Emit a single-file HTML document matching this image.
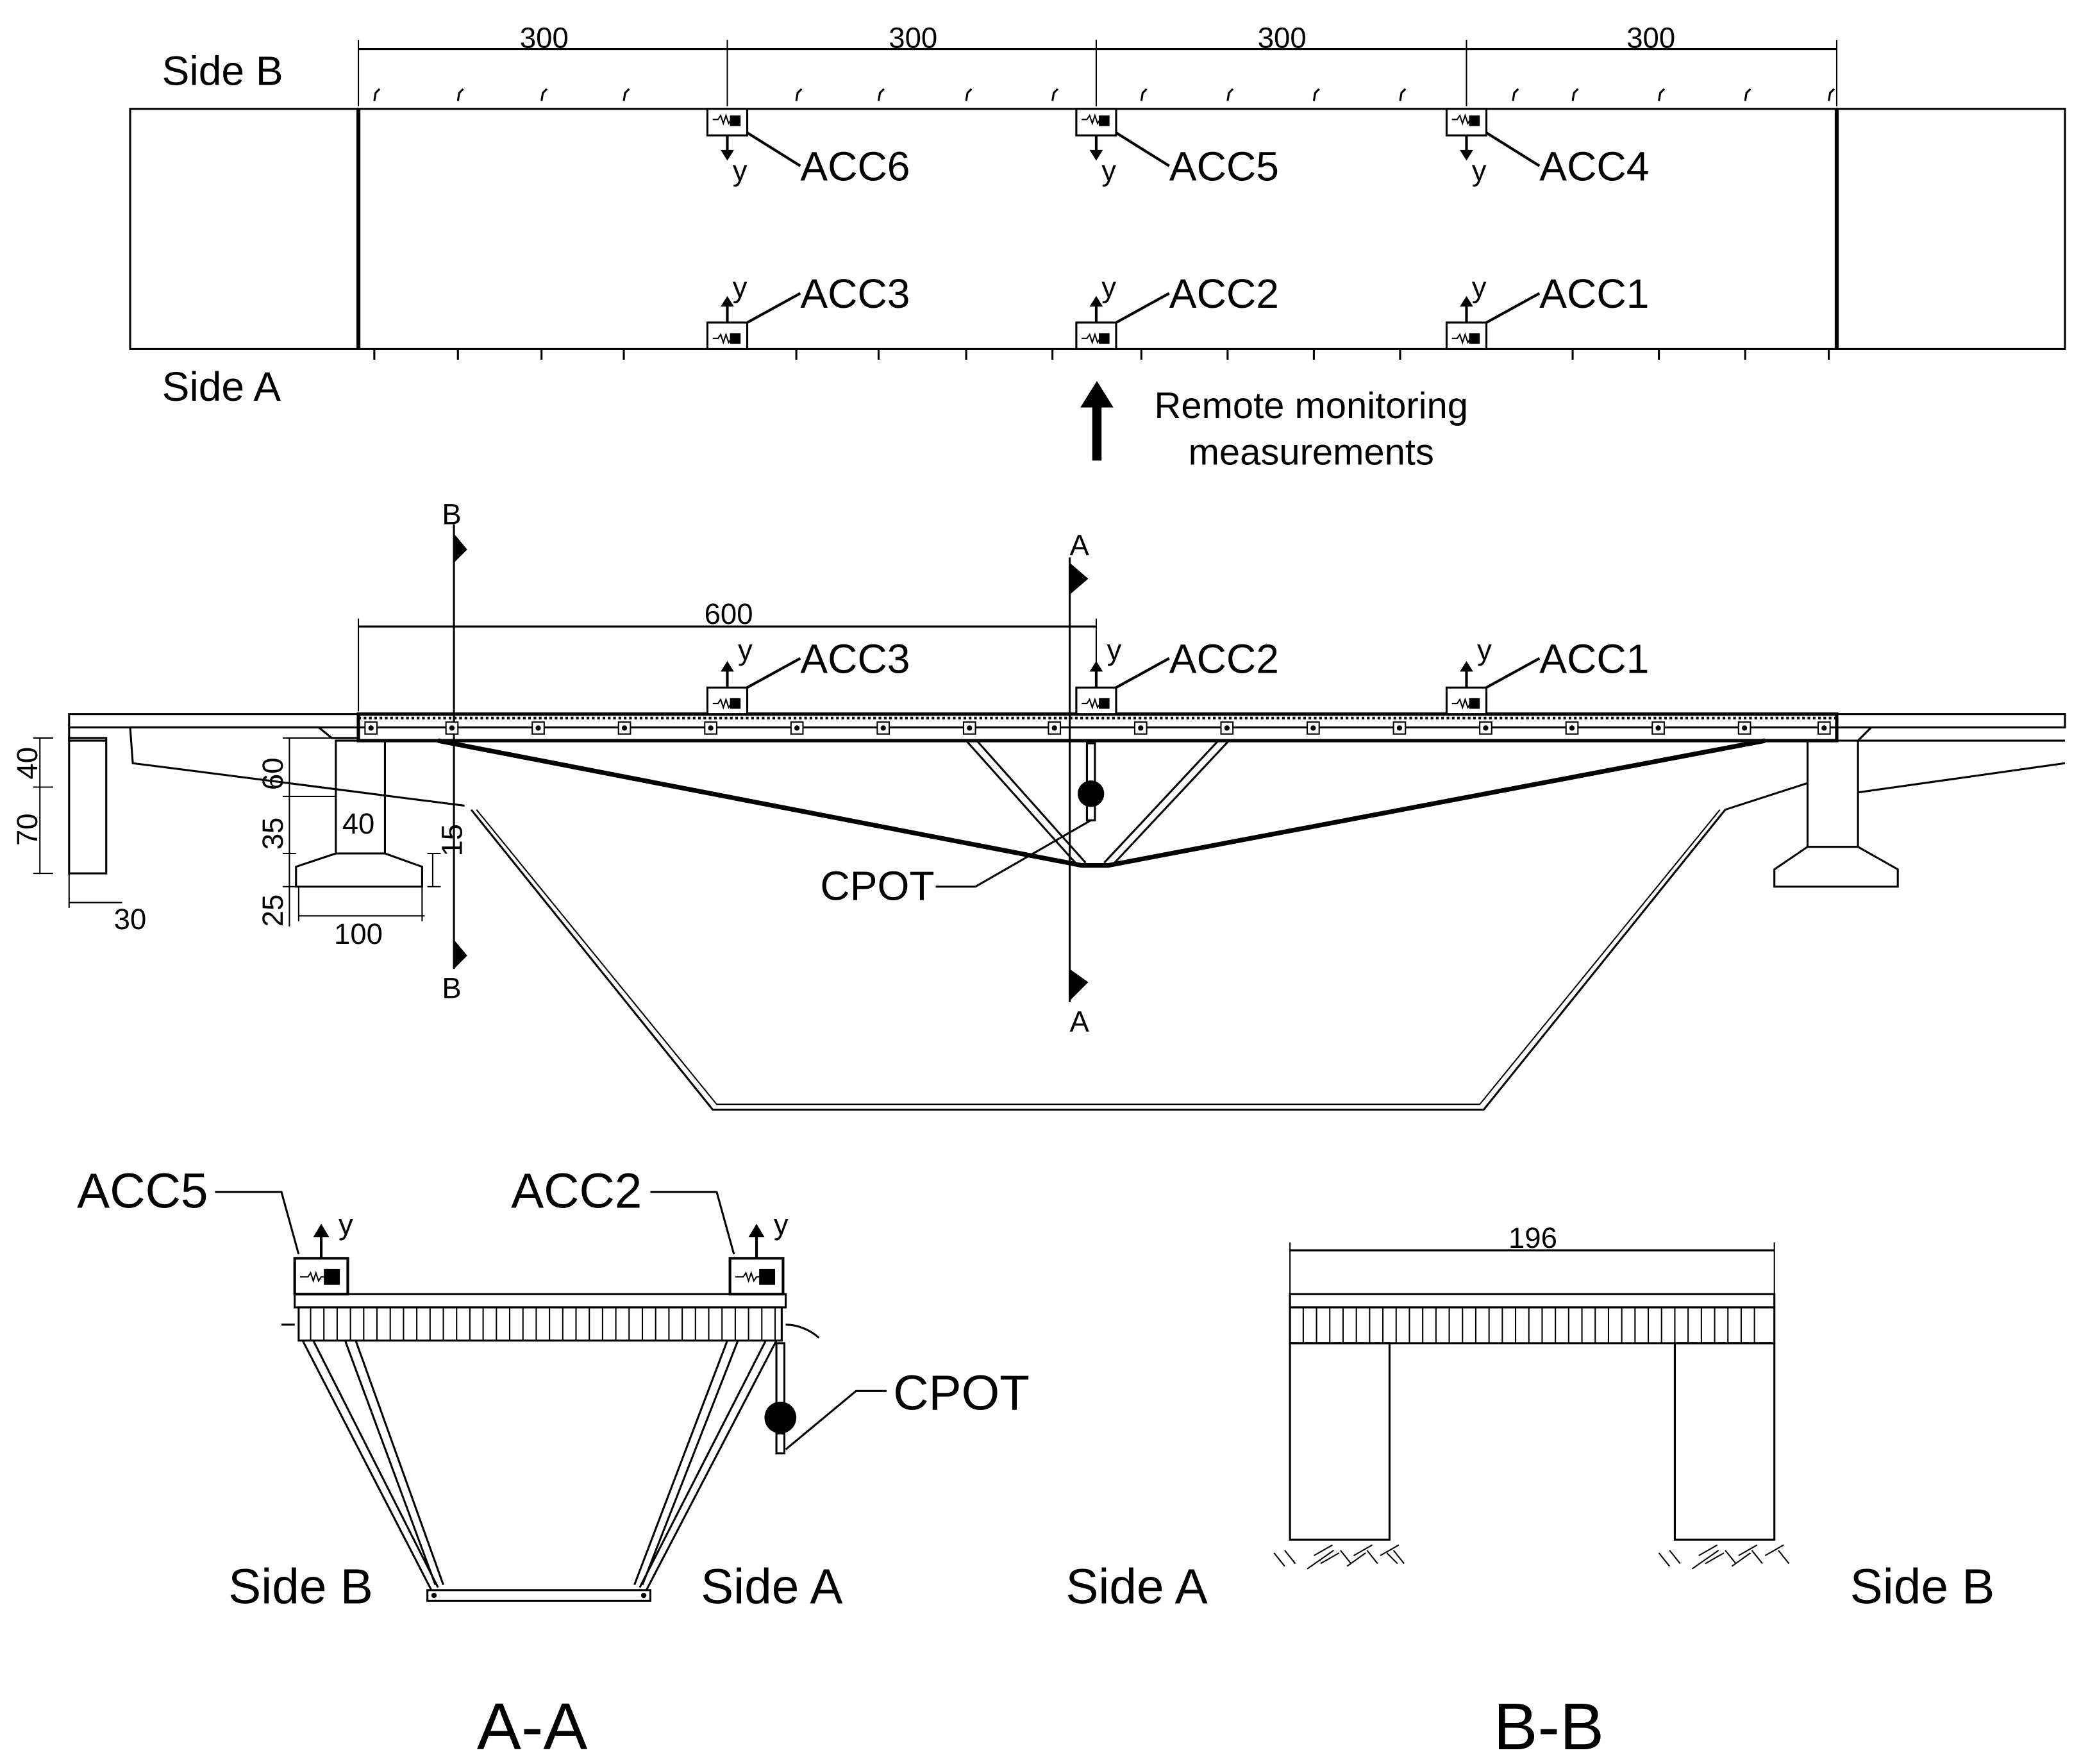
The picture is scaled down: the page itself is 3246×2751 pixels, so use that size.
<!DOCTYPE html>
<html><head><style>html,body{margin:0;padding:0;background:#fff}svg{display:block}text{font-family:"Liberation Sans",sans-serif;fill:#000}</style></head>
<body>
<svg width="3246" height="2751" viewBox="0 0 1568 1329" xmlns="http://www.w3.org/2000/svg">
<defs>
<g id="accD"><rect x="0" y="0" width="30" height="20" fill="#fff" stroke="#000" stroke-width="1.5"/><path d="M4 8 h4 l2 -3 l2 6 l2 -6 l2 6 l2 -3 h2" fill="none" stroke="#000" stroke-width="1"/><rect x="17" y="5" width="8" height="8" fill="#000" stroke="none"/></g>
<g id="accU"><rect x="0" y="0" width="30" height="20" fill="#fff" stroke="#000" stroke-width="1.5"/><path d="M4 12 h4 l2 -3 l2 6 l2 -6 l2 6 l2 -3 h2" fill="none" stroke="#000" stroke-width="1"/><rect x="17" y="8" width="8" height="8" fill="#000" stroke="none"/></g>
</defs>
<g stroke="#000" fill="none" stroke-width="1.5">
<rect x="98" y="82" width="1458" height="181"/>
<line x1="270" y1="82" x2="270" y2="263" stroke-width="3"/>
<line x1="1384" y1="82" x2="1384" y2="263" stroke-width="3"/>
<line x1="270" y1="37" x2="1384" y2="37"/>
<path d="M270 30v50M548 30v50M826 30v50M1105 30v50M1384 30v50" stroke-width="1"/>
<path d="M282 76l1-6 3-3M345 76l1-6 3-3M408 76l1-6 3-3M470 76l1-6 3-3M600 76l1-6 3-3M662 76l1-6 3-3M728 76l1-6 3-3M793 76l1-6 3-3M860 76l1-6 3-3M925 76l1-6 3-3M990 76l1-6 3-3M1055 76l1-6 3-3M1140 76l1-6 3-3M1185 76l1-6 3-3M1250 76l1-6 3-3M1315 76l1-6 3-3M1378 76l1-6 3-3"/>
<path d="M282 263v8M345 263v8M408 263v8M470 263v8M600 263v8M662 263v8M728 263v8M793 263v8M860 263v8M925 263v8M990 263v8M1055 263v8M1185 263v8M1250 263v8M1315 263v8M1378 263v8"/>
</g>
<g font-size="22" text-anchor="middle"><text x="410" y="36">300</text><text x="688" y="36">300</text><text x="966" y="36">300</text><text x="1244" y="36">300</text></g>
<text x="122" y="64" font-size="31">Side B</text>
<text x="122" y="302" font-size="31">Side A</text>
<g stroke="#000" stroke-width="2" fill="none">
<use href="#accD" x="533" y="82"/><use href="#accD" x="811" y="82"/><use href="#accD" x="1090" y="82"/>
<path d="M548 102v12M826 102v12M1105 102v12"/>
<path d="M563 100l40 25"/><path d="M841 100l40 25"/><path d="M1120 100l40 25"/>
<use href="#accU" x="533" y="243"/><use href="#accU" x="811" y="243"/><use href="#accU" x="1090" y="243"/>
<path d="M548 243v-14M826 243v-14M1105 243v-14"/>
<path d="M563 243l40-22M841 243l40-22M1120 243l40-22"/>
</g>
<g fill="#000">
<polygon points="543,113 548,121 553,113"/><polygon points="821,113 826,121 831,113"/><polygon points="1100,113 1105,121 1110,113"/>
<polygon points="543,231 548,223 553,231"/><polygon points="821,231 826,223 831,231"/><polygon points="1100,231 1105,223 1110,231"/>
</g>
<g font-size="31"><text x="603" y="136">ACC6</text><text x="881" y="136">ACC5</text><text x="1160" y="136">ACC4</text>
<text x="603" y="232">ACC3</text><text x="881" y="232">ACC2</text><text x="1160" y="232">ACC1</text></g>
<g font-size="22"><text x="552" y="136">y</text><text x="830" y="136">y</text><text x="1109" y="136">y</text>
<text x="552" y="224">y</text><text x="830" y="224">y</text><text x="1109" y="224">y</text></g>
<rect x="823" y="305" width="7" height="42"/><polygon points="814,307 826.5,287 839,307"/>
<text x="988" y="315" font-size="28" text-anchor="middle">Remote monitoring</text>
<text x="988" y="350" font-size="28" text-anchor="middle">measurements</text>

<g stroke="#000" fill="none" stroke-width="1.5">
<rect x="52" y="538" width="1504" height="10"/>
<rect x="270" y="538" width="1114" height="20" stroke-width="2.5"/>
<line x1="270" y1="541" x2="1384" y2="541" stroke-dasharray="2 2" stroke-width="2"/>
<path d="M52 548v10h28"/>
<path d="M98 548 L240 548 L250 556 L270 556"/>
<path d="M98 548 L100 575 L350 607"/>
<rect x="52" y="556" width="28" height="102"/>
<rect x="253" y="558" width="37" height="85"/>
<path d="M253 643l-30 10v15h95v-15l-28-10"/>
<path d="M1410 548 L1400 558 H1556"/>
<path d="M1300 610 L1362 590 M1400 597 L1556 575"/>
<rect x="1362" y="558" width="38" height="80"/>
<path d="M1362 638l-25 17v13h93v-13l-30-17"/>
<path d="M355 610 L537 836 L1118 836 L1300 610"/>
<path d="M359 610 L540 832 L1115 832 L1296 610" stroke-width="1"/>
<path d="M330 558 L815 652 L835 652 L1330 558" stroke-width="3.5"/>
<path d="M728 558 L812 652 M736 558 L818 650 M918 558 L832 650 M926 558 L838 652" stroke-width="1.5"/>
<line x1="342" y1="395" x2="342" y2="730"/>
<line x1="806" y1="420" x2="806" y2="755"/>
<line x1="270" y1="472" x2="826" y2="472"/><path d="M270 466v70M826 466v70" stroke-width="1"/>
<path d="M30 556v102M25 556h15M25 593h15M25 658h15M52 680h40M52 658v26" stroke-width="1"/>
<path d="M218 556v142M213 556h40M213 600h40M213 643h10M213 668h10M225 690h95M225 668v26M318 668v26M326 643v25M322 643h10M322 668h10" stroke-width="1"/>
<rect x="819" y="560" width="6" height="30"/><rect x="819" y="606" width="6" height="12"/>
<path d="M822 618 L735 668 H705"/>
</g>
<g fill="#000">
<polygon points="342,402 352,414 342,424"/><polygon points="342,708 352,720 342,730"/>
<polygon points="806,424 820,436 806,448"/><polygon points="806,730 820,740 806,754"/>
<circle cx="822" cy="598" r="10"/>
</g>
<g fill="#fff" stroke="#000" stroke-width="1">
<rect x="275" y="544" width="9" height="9"/><rect x="336" y="544" width="9" height="9"/><rect x="401" y="544" width="9" height="9"/><rect x="466" y="544" width="9" height="9"/><rect x="531" y="544" width="9" height="9"/><rect x="596" y="544" width="9" height="9"/><rect x="661" y="544" width="9" height="9"/><rect x="726" y="544" width="9" height="9"/><rect x="790" y="544" width="9" height="9"/><rect x="855" y="544" width="9" height="9"/><rect x="920" y="544" width="9" height="9"/><rect x="985" y="544" width="9" height="9"/><rect x="1050" y="544" width="9" height="9"/><rect x="1115" y="544" width="9" height="9"/><rect x="1180" y="544" width="9" height="9"/><rect x="1245" y="544" width="9" height="9"/><rect x="1310" y="544" width="9" height="9"/><rect x="1370" y="544" width="9" height="9"/>
</g>
<g fill="#000"><circle cx="279.5" cy="548.5" r="2"/><circle cx="340.5" cy="548.5" r="2"/><circle cx="405.5" cy="548.5" r="2"/><circle cx="470.5" cy="548.5" r="2"/><circle cx="535.5" cy="548.5" r="2"/><circle cx="600.5" cy="548.5" r="2"/><circle cx="665.5" cy="548.5" r="2"/><circle cx="730.5" cy="548.5" r="2"/><circle cx="794.5" cy="548.5" r="2"/><circle cx="859.5" cy="548.5" r="2"/><circle cx="924.5" cy="548.5" r="2"/><circle cx="989.5" cy="548.5" r="2"/><circle cx="1054.5" cy="548.5" r="2"/><circle cx="1119.5" cy="548.5" r="2"/><circle cx="1184.5" cy="548.5" r="2"/><circle cx="1249.5" cy="548.5" r="2"/><circle cx="1314.5" cy="548.5" r="2"/><circle cx="1374.5" cy="548.5" r="2"/></g>
<g stroke="#000" stroke-width="2" fill="none">
<use href="#accU" x="533" y="518"/><use href="#accU" x="811" y="518"/><use href="#accU" x="1090" y="518"/>
<path d="M548 518v-14M826 518v-14M1105 518v-14"/>
<path d="M563 518l40-22M841 518l40-22M1120 518l40-22"/>
</g>
<g fill="#000"><polygon points="543,506 548,498 553,506"/><polygon points="821,506 826,498 831,506"/><polygon points="1100,506 1105,498 1110,506"/></g>
<g font-size="31"><text x="603" y="507">ACC3</text><text x="881" y="507">ACC2</text><text x="1160" y="507">ACC1</text><text x="618" y="678">CPOT</text></g>
<g font-size="22"><text x="556" y="497">y</text><text x="834" y="497">y</text><text x="1113" y="497">y</text>
<text x="549" y="470" text-anchor="middle">600</text>
<text x="333" y="395">B</text><text x="333" y="752">B</text><text x="806" y="418">A</text><text x="806" y="777">A</text>
<text x="98" y="700" text-anchor="middle">30</text><text x="270" y="711" text-anchor="middle">100</text><text x="270" y="628" text-anchor="middle">40</text>
</g>
<g font-size="22" text-anchor="middle">
<text transform="translate(28,575) rotate(-90)">40</text><text transform="translate(28,625) rotate(-90)">70</text>
<text transform="translate(213,583) rotate(-90)">60</text><text transform="translate(213,628) rotate(-90)">35</text>
<text transform="translate(213,686) rotate(-90)">25</text><text transform="translate(348,633) rotate(-90)">15</text>
</g>

<g stroke="#000" fill="none" stroke-width="1.5">
<rect x="222" y="975" width="370" height="10"/>
<rect x="225" y="985" width="364" height="25"/>
<path d="M234 985v25M244 985v25M254 985v25M264 985v25M274 985v25M284 985v25M294 985v25M304 985v25M314 985v25M324 985v25M334 985v25M344 985v25M354 985v25M364 985v25M374 985v25M384 985v25M394 985v25M404 985v25M414 985v25M424 985v25M434 985v25M444 985v25M454 985v25M464 985v25M474 985v25M484 985v25M494 985v25M504 985v25M514 985v25M524 985v25M534 985v25M544 985v25M554 985v25M564 985v25M574 985v25M584 985v25" stroke-width="1"/>
<path d="M228 1010L325 1198M236 1010L330 1196M260 1010L328 1194M268 1010L334 1194"/>
<path d="M585 1010L487 1198M577 1010L482 1196M556 1010L484 1194M548 1010L478 1194"/>
<rect x="322" y="1198" width="168" height="8"/>
<path d="M222 998h-10M592 998c10 0 20 5 25 10"/>
<rect x="585" y="1012" width="6" height="45"/><rect x="585" y="1080" width="6" height="15"/>
<path d="M592 1092 L645 1048 H668"/>
<path d="M225 945 L212 898 H162" />
<path d="M553 945 L540 898 H490"/>
<line x1="972" y1="942" x2="1337" y2="942"/><path d="M972 936v40M1337 936v40" stroke-width="1"/>
<rect x="972" y="975" width="365" height="10"/>
<rect x="972" y="985" width="365" height="27"/>
<path d="M982 985v27M992 985v27M1002 985v27M1012 985v27M1022 985v27M1032 985v27M1042 985v27M1052 985v27M1062 985v27M1072 985v27M1082 985v27M1092 985v27M1102 985v27M1112 985v27M1122 985v27M1132 985v27M1142 985v27M1152 985v27M1162 985v27M1172 985v27M1182 985v27M1192 985v27M1202 985v27M1212 985v27M1222 985v27M1232 985v27M1242 985v27M1252 985v27M1262 985v27M1272 985v27M1282 985v27M1292 985v27M1302 985v27M1312 985v27M1322 985v27" stroke-width="1"/>
<rect x="972" y="1012" width="75" height="148"/><rect x="1262" y="1012" width="75" height="148"/>
<path d="M960 1170l8 10M968 1168l8 10M990 1172l14-8M995 1178l14-8M1010 1168l8 10M1020 1172l14-8M1030 1168l8 10M1040 1172l14-8M1050 1168l8 10M985 1182l20-14M1015 1180l14-10M1045 1170l8 8" stroke-width="1"/>
<path d="M1250 1170l8 10M1258 1168l8 10M1280 1172l14-8M1285 1178l14-8M1300 1168l8 10M1310 1172l14-8M1320 1168l8 10M1330 1172l14-8M1340 1168l8 10M1275 1182l20-14M1305 1180l14-10" stroke-width="1"/>
</g>
<g fill="#000"><circle cx="327" cy="1202" r="2"/><circle cx="485" cy="1202" r="2"/></g>
<g stroke="#000" stroke-width="2" fill="none">
<rect x="222" y="948" width="40" height="27" fill="#fff"/><rect x="550" y="948" width="40" height="27" fill="#fff"/>
<path d="M226 962h6l2-3 2 6 2-6 2 6 2-3h4M554 962h6l2-3 2 6 2-6 2 6 2-3h4" stroke-width="1"/>
<path d="M242 948v-18M570 948v-18"/>
</g>
<g fill="#000">
<rect x="244" y="956" width="12" height="12"/><rect x="572" y="956" width="12" height="12"/>
<polygon points="236,932 242,922 248,932"/><polygon points="564,932 570,922 576,932"/>
<circle cx="588" cy="1068" r="12"/>
</g>
<g font-size="37"><text x="58" y="910">ACC5</text><text x="385" y="910">ACC2</text><text x="673" y="1062">CPOT</text>
<text x="172" y="1208">Side B</text><text x="528" y="1208">Side A</text><text x="803" y="1208">Side A</text><text x="1394" y="1208">Side B</text></g>
<g font-size="22"><text x="255" y="930">y</text><text x="583" y="930">y</text><text x="1155" y="940" text-anchor="middle">196</text></g>
<g font-size="50" text-anchor="middle"><text x="401" y="1318">A-A</text><text x="1167" y="1318">B-B</text></g>
</svg>
</body></html>
